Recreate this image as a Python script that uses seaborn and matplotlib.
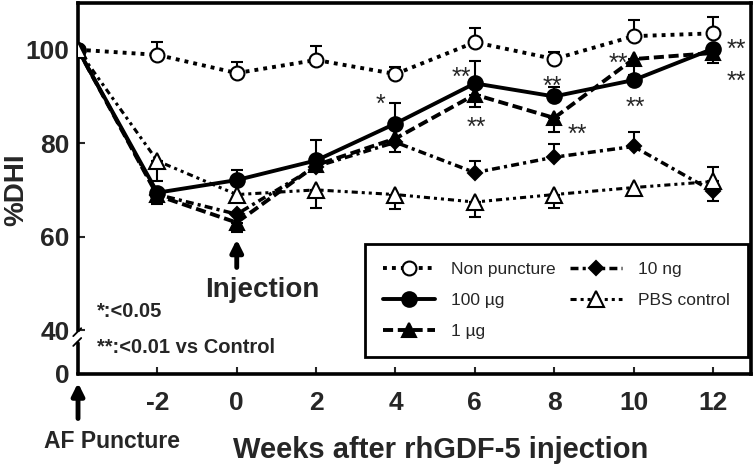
import numpy as np
import matplotlib
matplotlib.use('Agg')
import matplotlib.pyplot as plt
import seaborn as sns

# valores (%DHI), semana -4 = puncao AF
weeks = [-4, -2, 0, 2, 4, 6, 8, 10, 12]
week_ticks = [-2, 0, 2, 4, 6, 8, 10, 12]
y_tick_labels = ['0', '40', '60', '80', '100']

non_puncture = [100, 98.9, 95.0, 97.8, 94.8, 101.6, 98.0, 102.9, 103.5]
non_puncture_up = [0, 2.8, 2.3, 3.1, 1.4, 3.0, 1.5, 3.4, 3.4]
non_puncture_lo = [0, 0, 0, 0, 0, 0, 0, 0, 0]

dose_100ug = [100, 69.4, 72.1, 76.3, 84.2, 92.8, 90.0, 93.5, 100.2]
dose_100ug_up = [0, 0, 2.1, 4.4, 4.3, 4.7, 2.0, 0, 0]
dose_100ug_lo = [0, 2.4, 0, 0, 0, 0, 0, 0, 0]

dose_1ug = [100, 68.8, 63.0, 75.3, 81.0, 90.4, 85.4, 98.0, 99.3]
dose_1ug_up = [0, 0, 0, 0, 0, 0, 0, 0, 0]
dose_1ug_lo = [0, 1.5, 2.0, 0, 0, 2.6, 3.0, 3.5, 2.2]

dose_10ng = [100, 69.0, 64.8, 75.0, 80.2, 73.7, 77.0, 79.3, 69.7]
dose_10ng_up = [0, 0, 0, 0, 0, 2.4, 2.8, 3.0, 0]
dose_10ng_lo = [0, 0, 0, 0, 2.0, 0, 0, 0, 2.1]

pbs = [100, 76.2, 69.0, 70.0, 69.0, 67.4, 69.0, 70.5, 71.8]
pbs_up = [0, 0, 0, 0, 0, 0, 0, 0, 3.0]
pbs_lo = [0, 4.4, 0, 3.9, 3.0, 3.2, 2.8, 0, 0]

# marcas de significancia (semana, %DHI, texto)
sig_marks = [(3.62, 89.9, '*'), (5.66, 95.5, '**'), (6.04, 85.0, '**'),
             (7.95, 93.6, '**'), (8.59, 83.3, '**'), (9.62, 98.5, '**'),
             (10.05, 89.1, '**'), (12.6, 101.5, '**'), (12.6, 94.7, '**')]

sns.set_style('ticks')
plt.rcParams['font.family'] = ['Liberation Sans', 'DejaVu Sans']

y_bottom = 30.6  # onde fica o "0" depois da quebra do eixo

fig = plt.figure(figsize=(7.56, 4.68), dpi=100)
ax = fig.add_axes([0.1032, 0.2009, 0.8902, 0.7927])

series = [
    ('Non puncture', non_puncture, non_puncture_up, non_puncture_lo,
     dict(linestyle=(0, (1.0, 1.3)), lw=2.8, marker='o', markersize=10, markerfacecolor='white')),
    ('100 µg', dose_100ug, dose_100ug_up, dose_100ug_lo,
     dict(linestyle='-', lw=2.8, marker='o', markersize=10.5, markerfacecolor='black')),
    ('1 µg', dose_1ug, dose_1ug_up, dose_1ug_lo,
     dict(linestyle=(0, (2.6, 1.2)), lw=2.8, marker='^', markersize=9.5, markerfacecolor='black')),
    ('10 ng', dose_10ng, dose_10ng_up, dose_10ng_lo,
     dict(linestyle=(0, (2.3, 1.2, 0.9, 1.2)), lw=2.5, marker='D', markersize=7, markerfacecolor='black')),
    ('PBS control', pbs, pbs_up, pbs_lo,
     dict(linestyle=(0, (2.0, 1.3, 1.0, 1.3, 1.0, 1.3)), lw=2.2, marker='^', markersize=12, markerfacecolor='white')),
]

handles = []
x = np.array(weeks)
for i, (label, vals, up, lo, style) in enumerate(series):
    y = np.array(vals)
    up = np.array(up)
    lo = np.array(lo)
    mask = (up > 0) | (lo > 0)
    ax.errorbar(x[mask], y[mask], yerr=[lo[mask], up[mask]], fmt='none', ecolor='black',
                elinewidth=1.5, capsize=4, capthick=1.5, zorder=2 + i * 0.1)
    sns.lineplot(x=x, y=y, ax=ax, color='black', markeredgecolor='black',
                 markeredgewidth=1.5, zorder=3 + i * 0.1, **style)
    handles.append(ax.lines[-1])

for sx, sy, txt in sig_marks:
    ax.annotate(txt, xy=(sx, sy), xytext=(0, -10.5), textcoords='offset points',
                ha='center', va='baseline', fontsize=18)

ax.set_xlim(-4, 12.96)
ax.set_ylim(y_bottom, 110)
ax.set_xticks(week_ticks)
ax.set_xticklabels([str(w) for w in week_ticks])
ax.set_yticks([y_bottom, 40, 60, 80, 100])
ax.set_yticklabels(y_tick_labels)
ax.tick_params(axis='both', direction='in', width=1.5, length=5, labelsize=19)
ax.tick_params(axis='x', pad=12)
ax.tick_params(axis='y', pad=6)
for t in ax.get_xticklabels() + ax.get_yticklabels():
    t.set_fontweight('bold')

for s in ax.spines.values():
    s.set_linewidth(2.6)
    s.set_color('black')
ax.spines['left'].set_bounds(40, 110)
# eixo quebrado: pedaco de baixo e as barrinhas
ax.plot([-4, -4], [y_bottom, 37.3], color='black', lw=2.6, clip_on=False, zorder=5)
ax.plot([-4.12, -3.92], [38.7, 40.4], color='black', lw=1.3, clip_on=False, zorder=5)
ax.plot([-4.12, -3.92], [36.6, 38.3], color='black', lw=1.3, clip_on=False, zorder=5)

ax.set_xlabel('Weeks after rhGDF-5 injection', fontsize=21, fontweight='bold')
ax.xaxis.set_label_coords(0.5387, -0.168)
ax.set_ylabel('%DHI', fontsize=20, fontweight='bold')
ax.yaxis.set_label_coords(-0.072, 0.496)

ax.annotate('', xy=(0, 59.4), xytext=(0, 53.4),
            arrowprops=dict(arrowstyle='-|>', lw=3.5, color='black', mutation_scale=18,
                            shrinkA=0, shrinkB=0))
ax.text(0.64, 51.4, 'Injection', ha='center', va='top', fontsize=20, fontweight='bold')

ax.annotate('', xy=(-4, -0.024), xycoords=ax.get_xaxis_transform(),
            xytext=(-4, -0.12), textcoords=ax.get_xaxis_transform(),
            arrowprops=dict(arrowstyle='-|>', lw=3.5, color='black', mutation_scale=18,
                            shrinkA=0, shrinkB=0), annotation_clip=False)
ax.text(-3.14, -0.183, 'AF Puncture', transform=ax.get_xaxis_transform(),
        ha='center', va='center', fontsize=16.5, fontweight='bold')

ax.text(-3.52, 44.0, '*:<0.05', ha='left', va='center', fontsize=14.5, fontweight='bold')
ax.text(-3.52, 36.3, '**:<0.01 vs Control', ha='left', va='center', fontsize=14.5, fontweight='bold')

leg = ax.legend(handles, [s[0] for s in series], ncol=2, loc='lower left',
                bbox_to_anchor=(0.4265, 0.046, 0.569, 0.31), mode='expand',
                borderaxespad=0, fontsize=12.5, frameon=True, fancybox=False,
                edgecolor='black', framealpha=1, handlelength=3.0, handletextpad=0.9,
                labelspacing=0.9, borderpad=1.05, numpoints=1)
leg.get_frame().set_linewidth(2)
leg.set_zorder(6)

plt.savefig('out.png', dpi=100)
plt.close()
